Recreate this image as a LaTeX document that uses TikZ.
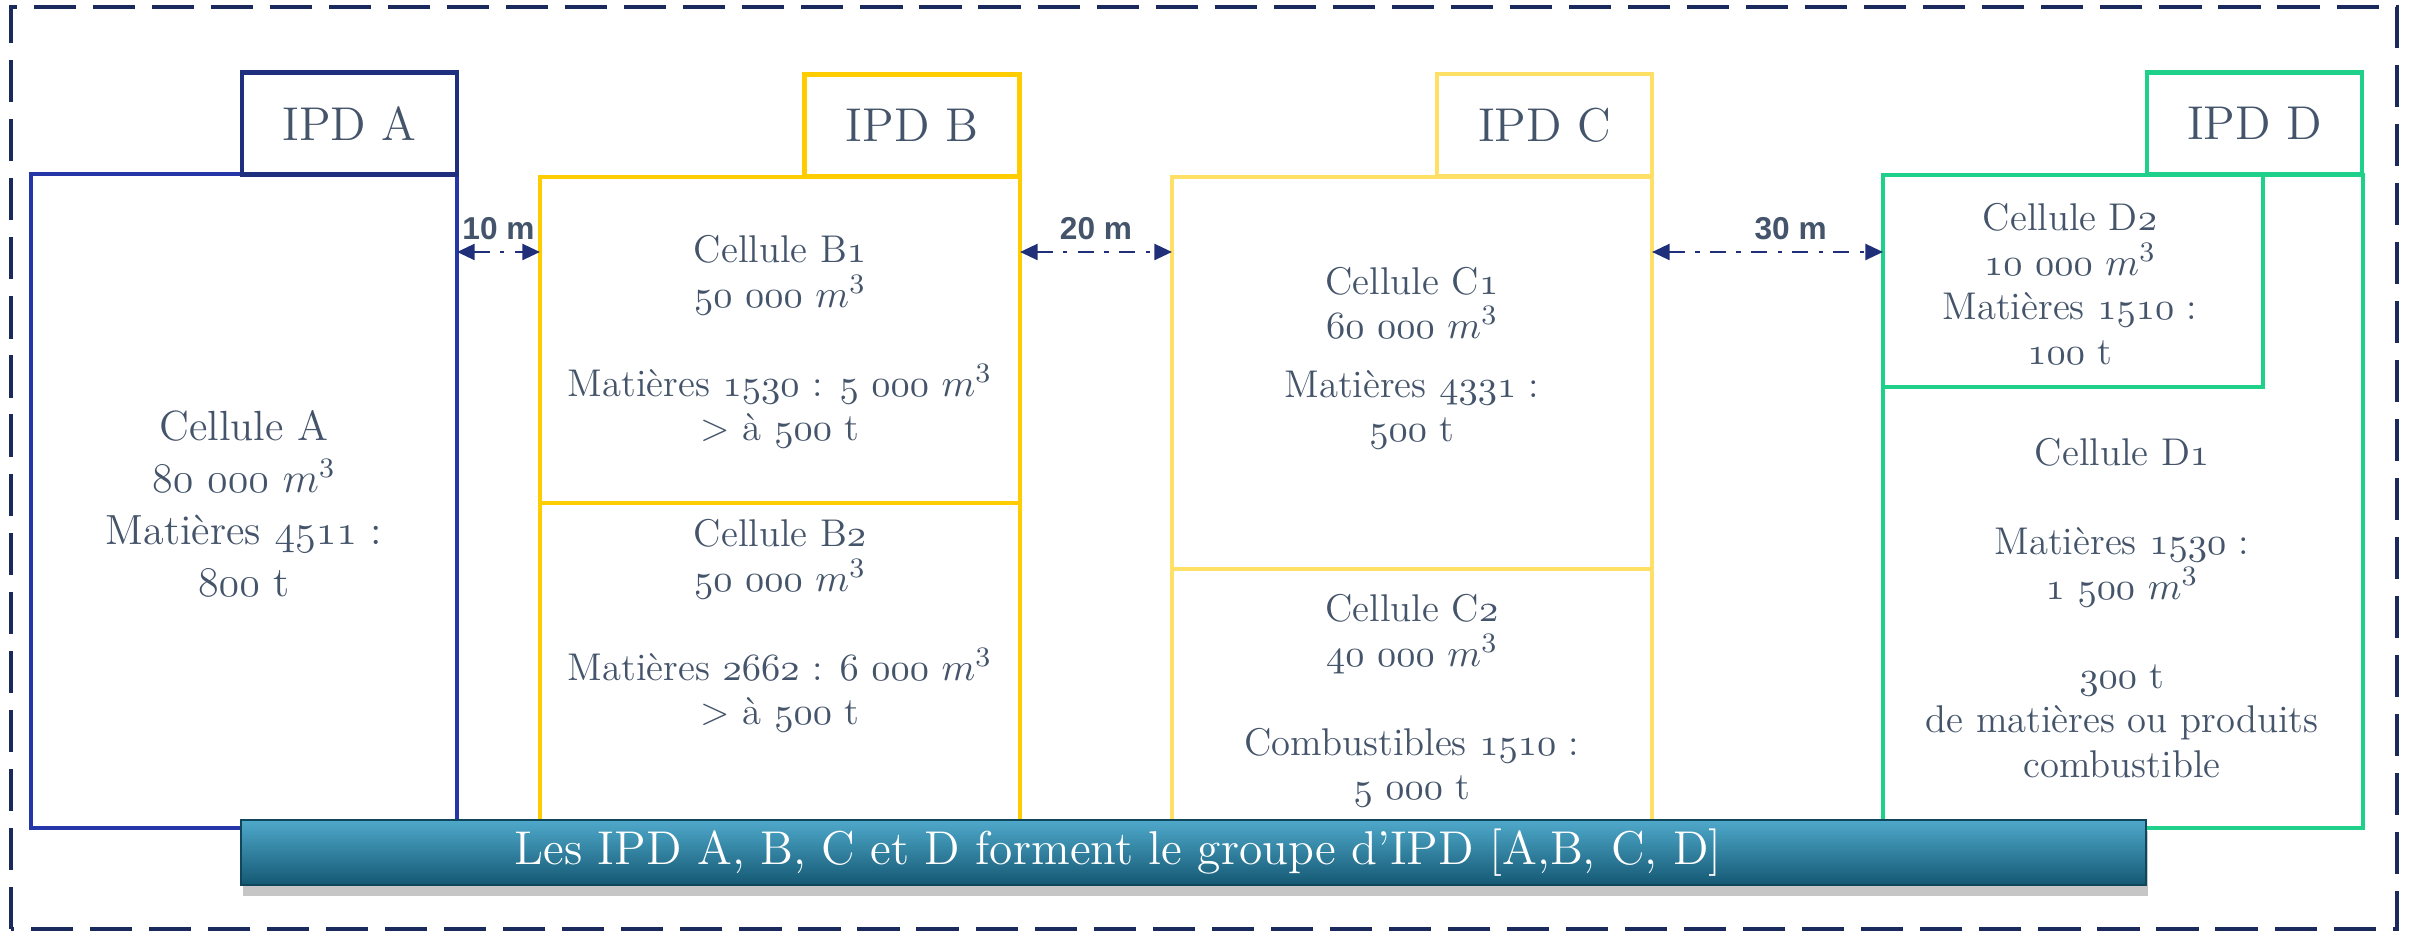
\documentclass[tikz,border=0pt]{standalone}
\usepackage{fontspec}
\newfontfamily\labelfont{Liberation Sans}
\usetikzlibrary{arrows.meta,shadows}

\definecolor{txt}{HTML}{44546A}
\definecolor{frameblue}{HTML}{1B2A5C}
\definecolor{arrowblue}{HTML}{1F2F7A}
\definecolor{ipdA}{HTML}{2536A8}
\definecolor{ipdAtab}{HTML}{1F2F80}
\definecolor{ipdB}{HTML}{FFCC00}
\definecolor{ipdC}{HTML}{FFE066}
\definecolor{ipdD}{HTML}{1ED08A}
\definecolor{bannertop}{HTML}{4FA9CB}
\definecolor{bannermid}{HTML}{1B7395}
\definecolor{bannerbot}{HTML}{145873}

% old style figures, taken from the math letter font
\newcommand{\on}[1]{\ensuremath{\mathnormal{#1}}}
\newcommand{\mcube}{$m^3$}

\begin{document}
\begin{tikzpicture}[
        every node/.style={inner sep=0pt, outer sep=0pt},
        cellbox/.style={draw=#1, line width=1.2pt, fill=white},
        tabbox/.style={draw=#1, line width=1.2pt, fill=white,
            minimum width=2.15cm, minimum height=1.02cm,
            text=txt, font=\fontsize{13.5}{16}\selectfont},
        celltext/.style={text=txt, align=center, font=\fontsize{11}{12.65}\selectfont},
        gap/.style={draw=arrowblue, line width=0.75pt,
            dash pattern=on 4.5pt off 3pt on 1.2pt off 3pt,
            {Triangle[length=5pt,width=4.5pt]}-{Triangle[length=5pt,width=4.5pt]}},
        gaplabel/.style={text=txt, font=\fontsize{9}{11}\labelfont\bfseries},
    ]
    \useasboundingbox (0,0) rectangle (24.12,9.38);

    % outer frame
    \draw[frameblue, line width=1.4pt, dash pattern=on 12pt off 4.8pt]
        (0.11,0.09) rectangle (23.97,9.31);

    % IPD A
    \node[cellbox=ipdA, minimum width=4.26cm, minimum height=6.54cm] (A) at (2.44,4.37) {};
    \node[tabbox=ipdAtab] (tabA) at (3.495,8.145) {IPD A};
    \node[celltext, font=\fontsize{12}{14.8}\selectfont] (txtA) at (2.44,4.34)
        {Cellule A\\ \on{80\ 000} \mcube\\ Matières \on{4511} :\\ \on{800} t};

    % IPD B
    \node[cellbox=ipdB, minimum width=4.8cm, minimum height=3.25cm] (B2) at (7.80,2.725) {};
    \node[cellbox=ipdB, minimum width=4.8cm, minimum height=3.26cm] (B1) at (7.80,5.98) {};
    \node[tabbox=ipdB] (tabB) at (9.12,8.125) {IPD B};
    \node[celltext] (txtB1) at (7.80,5.96)
        {Cellule B\on{1}\\ \on{50\ 000} \mcube\\[12.65pt] Matières \on{1530} : \on{5\ 000} \mcube\\ > à \on{500} t};
    \node[celltext] (txtB2) at (7.80,3.12)
        {Cellule B\on{2}\\ \on{50\ 000} \mcube\\[12.65pt] Matières \on{2662} : \on{6\ 000} \mcube\\ > à \on{500} t};

    % IPD C
    \node[cellbox=ipdC, minimum width=4.8cm, minimum height=2.59cm] (C2) at (14.12,2.395) {};
    \node[cellbox=ipdC, minimum width=4.8cm, minimum height=3.92cm] (C1) at (14.12,5.65) {};
    \node[tabbox=ipdC] (tabC) at (15.445,8.13) {IPD C};
    \node[celltext] (txtC1) at (14.12,5.80)
        {Cellule C\on{1}\\ \on{60\ 000} \mcube\\[4pt] Matières \on{4331} :\\ \on{500} t};
    \node[celltext] (txtC2) at (14.12,2.37)
        {Cellule C\on{2}\\ \on{40\ 000} \mcube\\[12.65pt] Combustibles \on{1510} :\\ \on{5\ 000} t};

    % IPD D
    \node[cellbox=ipdD, minimum width=4.8cm, minimum height=6.53cm] (D1) at (21.23,4.365) {};
    \node[cellbox=ipdD, minimum width=3.8cm, minimum height=2.12cm] (D2) at (20.73,6.57) {};
    \node[tabbox=ipdD] (tabD) at (22.545,8.145) {IPD D};
    \node[celltext] (txtD2) at (20.70,6.54)
        {Cellule D\on{2}\\ \on{10\ 000} \mcube\\ Matières \on{1510} :\\ \on{100} t};
    \node[celltext] (txtD1) at (21.22,3.30)
        {Cellule D\on{1}\\[12.65pt] Matières \on{1530} :\\ \on{1\ 500} \mcube\\[12.65pt] \on{300} t\\ de matières ou produits\\ combustible};

    % distances
    \coordinate (gaprow) at (0,6.86);
    \draw[gap] (A.east |- gaprow) -- (B1.west |- gaprow)
        node[gaplabel, midway, yshift=0.23cm] {10 m};
    \draw[gap] (B1.east |- gaprow) -- (C1.west |- gaprow)
        node[gaplabel, midway, yshift=0.23cm] {20 m};
    \draw[gap] (C1.east |- gaprow) -- (D2.west |- gaprow)
        node[gaplabel, pos=0.6, yshift=0.23cm] {30 m};

    % banner
    \node[minimum width=19.05cm, minimum height=0.65cm,
          top color=bannertop, middle color=bannermid, bottom color=bannerbot,
          draw=bannerbot!80!black, line width=0.3pt,
          drop shadow={shadow xshift=0.5pt, shadow yshift=-3pt, opacity=0.45}]
        (banner) at (11.935,0.855) {};
    \node[text=white, font=\fontsize{13.5}{16}\selectfont] (bannertxt)
        at ([xshift=-0.755cm]banner.center)
        {Les IPD A, B, C et D forment le groupe d’IPD [A,B, C, D]};
\end{tikzpicture}
\end{document}
